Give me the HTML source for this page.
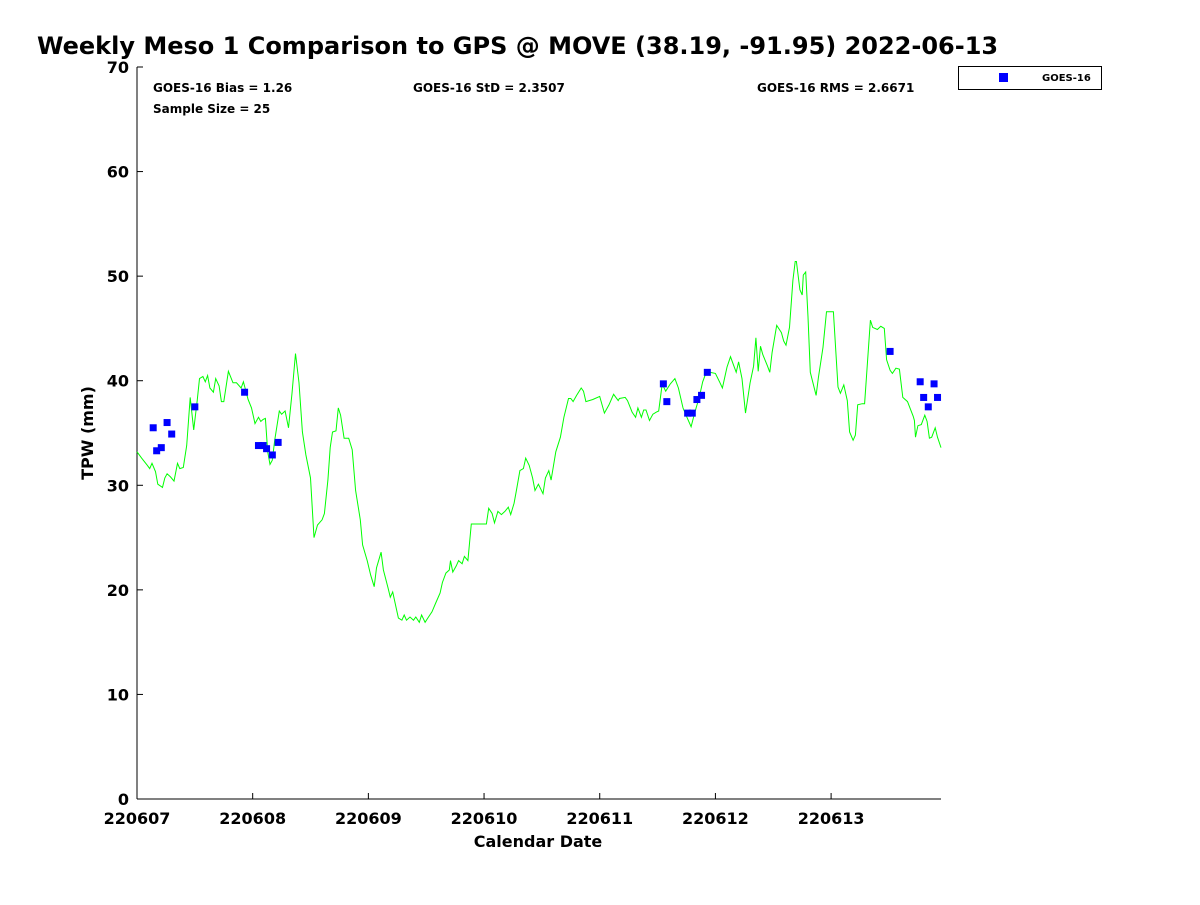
<!DOCTYPE html>
<html><head><meta charset="utf-8"><style>
body{margin:0;background:#fff;}
svg text{font-family:"DejaVu Sans","Liberation Sans",sans-serif;font-weight:bold;fill:#000;}
</style></head><body>
<svg width="1200" height="900" xmlns="http://www.w3.org/2000/svg">
<rect width="1200" height="900" fill="#fff"/>
<text x="37" y="54" font-size="24">Weekly Meso 1 Comparison to GPS @ MOVE (38.19, -91.95) 2022-06-13</text>
<g id="axes"></g>
<g id="marks"></g>
<text x="153" y="92" font-size="12">GOES-16 Bias = 1.26</text>
<text x="153" y="113" font-size="12">Sample Size = 25</text>
<text x="413" y="92" font-size="12">GOES-16 StD = 2.3507</text>
<text x="757" y="92" font-size="12">GOES-16 RMS = 2.6671</text>
<g>
<rect x="958.5" y="66.5" width="143" height="23" fill="#fff" stroke="#000" stroke-width="1"/>
<rect x="999" y="73" width="9" height="9" fill="#0000ff"/>
<text x="1042" y="81" font-size="10">GOES-16</text>
</g>
<text x="538" y="847" font-size="16" text-anchor="middle">Calendar Date</text>
<text transform="translate(93,433) rotate(-90)" font-size="16" text-anchor="middle">TPW (mm)</text>
</svg>
<script>
const lineDays=[0.00,0.04,0.09,0.11,0.13,0.16,0.18,0.22,0.24,0.26,0.29,0.32,0.35,0.37,0.40,0.43,0.46,0.49,0.52,0.54,0.57,0.59,0.61,0.63,0.66,0.68,0.71,0.73,0.75,0.79,0.83,0.86,0.90,0.92,0.96,0.99,1.02,1.05,1.07,1.09,1.11,1.13,1.15,1.17,1.19,1.23,1.25,1.28,1.31,1.34,1.37,1.40,1.43,1.46,1.50,1.53,1.56,1.60,1.62,1.65,1.67,1.69,1.72,1.74,1.76,1.79,1.83,1.86,1.89,1.93,1.95,1.99,2.02,2.05,2.07,2.11,2.13,2.17,2.19,2.21,2.24,2.26,2.29,2.31,2.33,2.36,2.39,2.41,2.44,2.46,2.49,2.52,2.55,2.58,2.62,2.64,2.67,2.70,2.71,2.73,2.76,2.78,2.81,2.83,2.86,2.89,2.91,3.02,3.04,3.07,3.09,3.12,3.15,3.18,3.21,3.23,3.26,3.28,3.31,3.34,3.36,3.39,3.42,3.44,3.47,3.51,3.53,3.56,3.58,3.62,3.66,3.69,3.73,3.75,3.77,3.80,3.84,3.86,3.88,3.94,4.00,4.04,4.08,4.12,4.16,4.17,4.22,4.24,4.28,4.31,4.33,4.36,4.38,4.40,4.43,4.46,4.49,4.51,4.54,4.57,4.61,4.65,4.68,4.72,4.75,4.79,4.82,4.86,4.89,4.92,4.95,5.00,5.04,5.06,5.10,5.13,5.16,5.18,5.20,5.23,5.26,5.30,5.33,5.35,5.37,5.39,5.41,5.45,5.47,5.49,5.53,5.57,5.59,5.61,5.64,5.67,5.69,5.70,5.73,5.75,5.76,5.78,5.80,5.82,5.87,5.89,5.93,5.96,6.02,6.06,6.08,6.11,6.14,6.16,6.19,6.21,6.23,6.27,6.29,6.34,6.36,6.40,6.43,6.46,6.48,6.51,6.53,6.56,6.59,6.62,6.66,6.71,6.72,6.73,6.75,6.78,6.81,6.83,6.85,6.87,6.90,6.92,6.95];
const lineTPW=[33.2,32.6,31.9,31.6,32.1,31.3,30.1,29.8,30.7,31.1,30.8,30.4,32.1,31.6,31.7,33.8,38.4,35.3,38.1,40.2,40.4,39.9,40.5,39.3,38.9,40.2,39.5,38.0,38.0,40.9,39.8,39.8,39.3,39.9,38.2,37.4,35.9,36.5,36.1,36.3,36.4,33.2,32.0,32.4,34.3,37.1,36.8,37.1,35.5,38.8,42.6,39.8,35.1,32.9,30.7,25.0,26.2,26.7,27.3,30.5,33.6,35.1,35.2,37.4,36.7,34.5,34.5,33.4,29.5,26.7,24.3,22.8,21.4,20.3,22.1,23.6,21.9,20.2,19.3,19.8,18.3,17.3,17.1,17.6,17.1,17.4,17.1,17.4,16.9,17.6,16.9,17.4,17.9,18.7,19.7,20.7,21.6,21.9,22.8,21.7,22.3,22.8,22.5,23.2,22.8,26.3,26.3,26.3,27.8,27.3,26.4,27.5,27.2,27.5,27.9,27.2,28.3,29.5,31.4,31.6,32.6,31.9,30.7,29.5,30.1,29.2,30.7,31.4,30.5,33.2,34.6,36.5,38.3,38.3,38.0,38.6,39.3,39.0,38.0,38.2,38.5,36.9,37.7,38.7,38.1,38.3,38.4,38.1,37.0,36.5,37.4,36.5,37.2,37.2,36.2,36.8,37.0,37.1,39.7,39.0,39.7,40.2,39.3,37.4,36.6,35.6,36.9,38.4,39.9,40.8,40.8,40.7,39.8,39.3,41.3,42.3,41.4,40.8,41.8,40.2,36.9,39.8,41.4,44.1,40.9,43.3,42.5,41.4,40.8,42.7,45.3,44.6,43.8,43.4,45.1,49.6,51.4,51.4,48.7,48.2,50.1,50.4,46.1,40.8,38.6,40.3,43.2,46.6,46.6,39.4,38.8,39.6,38.1,35.1,34.3,34.8,37.7,37.8,37.8,45.8,45.1,44.9,45.2,45.0,42.0,41.0,40.7,41.2,41.1,38.4,38.0,36.6,36.2,34.6,35.7,35.8,36.7,36.1,34.5,34.6,35.5,34.6,33.6];
const pointDays=[0.14,0.17,0.21,0.26,0.30,0.50,0.93,1.05,1.09,1.12,1.17,1.22,4.55,4.58,4.76,4.80,4.84,4.88,4.93,6.51,6.77,6.80,6.84,6.89,6.92];
const pointTPW=[35.5,33.3,33.6,36.0,34.9,37.5,38.9,33.8,33.8,33.5,32.9,34.1,39.7,38.0,36.9,36.9,38.2,38.6,40.8,42.8,39.9,38.4,37.5,39.7,38.4];
const xTickLabels=["220607","220608","220609","220610","220611","220612","220613"];
const yTicks=[0,10,20,30,40,50,60,70];
const NS="http://www.w3.org/2000/svg";
const X0=137,X1=941,Y0=799,Y1=67,DMAX=6.95,YMAX=70;
function sx(d){return X0+d/DMAX*(X1-X0);}
function sy(v){return Y0-v/YMAX*(Y0-Y1);}
function mk(tag,attrs,parent){const e=document.createElementNS(NS,tag);for(const k in attrs)e.setAttribute(k,attrs[k]);parent.appendChild(e);return e;}
const axes=document.getElementById('axes'),marks=document.getElementById('marks');
let a=mk('line',{x1:X0,y1:Y1,x2:X0,y2:Y0,stroke:'#000','stroke-width':1},axes);

a=mk('line',{x1:X0,y1:Y0,x2:X1,y2:Y0,stroke:'#000','stroke-width':1},axes);

yTicks.forEach(v=>{const y=sy(v);
 const t=mk('line',{x1:X0,y1:y,x2:X0+6,y2:y,stroke:'#000'},axes);
 
 const l=mk('text',{x:X0-8,y:y+6,'font-size':16,'text-anchor':'end'},axes);l.textContent=v;
 });
xTickLabels.forEach((s,i)=>{const x=sx(i);
 const t=mk('line',{x1:x,y1:Y0,x2:x,y2:Y0-6,stroke:'#000'},axes);
 
 const l=mk('text',{x:x,y:Y0+25,'font-size':16,'text-anchor':'middle'},axes);l.textContent=s;
 });
const pts=lineDays.map((d,i)=>sx(d).toFixed(1)+','+sy(lineTPW[i]).toFixed(1)).join(' ');
const pl=mk('polyline',{points:pts,fill:'none',stroke:'#00ff00','stroke-width':1},marks);

pointDays.forEach((d,i)=>{const r=mk('rect',{x:sx(d)-3.5,y:sy(pointTPW[i])-3.5,width:7,height:7,fill:'#0000ff'},marks);
 });
</script>
</body></html>
